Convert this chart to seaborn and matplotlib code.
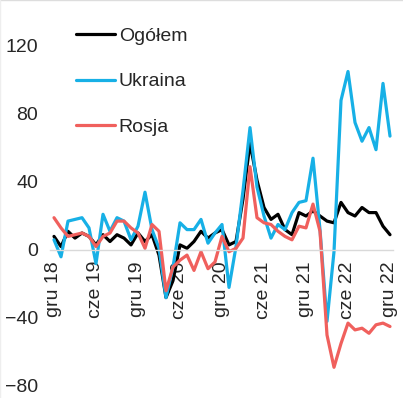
import numpy as np
import pandas as pd
import seaborn as sns
import matplotlib.pyplot as plt
from matplotlib.lines import Line2D

# monthly values, gru 2018 - gru 2022
ogolem = [8, 2, 11, 7, 10, 8, 3, 9, 5, 9, 7, 3, 10, 5, 9, -3,
          -28, -18, 3, 1, 5, 11, 7, 10, 12, 3, 5, 30, 63, 41, 25, 18,
          21, 12, 9, 22, 20, 23, 20, 17, 16, 28, 22, 20, 25, 22, 22, 14, 9]
ukraina = [6, -4, 17, 18, 19, 13, -8, 21, 11, 19, 17, 6, 14, 34, 12, 1,
           -28, -10, 16, 12, 12, 18, 4, 10, 15, -22, 2, 35, 72, 37, 20, 7,
           15, 12, 22, 28, 29, 54, 12, -42, -1, 88, 105, 75, 64, 72, 59, 98, 67]
rosja = [19, 13, 8, 9, 10, 8, 2, 8, 10, 17, 17, 13, 10, 1, 15, 11,
         -24, -10, -6, -3, -12, -1, -11, -7, 8, -1, 1, 7, 49, 19, 16, 15,
         11, 8, 6, 14, 13, 27, 11, -50, -69, -55, -43, -47, -46, -49, -44, -43, -45]

series_names = ["Ogółem", "Ukraina", "Rosja"]
series_colors = ["#000000", "#17B0E6", "#F0605D"]
tick_labels = ["gru 18", "cze 19", "gru 19", "cze 20", "gru 20",
               "cze 21", "gru 21", "cze 22", "gru 22"]
y_ticks = [-80, -40, 0, 40, 80, 120]

months = np.arange(len(ogolem))
df = pd.DataFrame({
    "miesiac": np.tile(months, 3),
    "wartosc": ogolem + ukraina + rosja,
    "seria": np.repeat(series_names, len(months)),
})

sns.set_style("white")
plt.rcParams["font.family"] = ["Liberation Sans", "DejaVu Sans"]

fig = plt.figure(figsize=(4.03, 3.98), dpi=100)
ax = fig.add_axes([50.5 / 403, 12 / 398, 343 / 403, 374 / 398])

sns.lineplot(data=df, x="miesiac", y="wartosc", hue="seria",
             hue_order=series_names, palette=series_colors,
             linewidth=2.3, ax=ax)

# axis line through zero (set before ticks, it resets them)
for side in ["top", "right", "left"]:
    ax.spines[side].set_visible(False)
ax.spines["bottom"].set_position(("data", 0))
ax.spines["bottom"].set_color("#D9D9D9")
ax.spines["bottom"].set_linewidth(1)

ax.set_xlim(-0.5, len(months) - 0.5)
ax.set_ylim(-80, 140)
ax.set_yticks(y_ticks)
ax.set_xticks(months[::6])
ax.set_xticklabels(tick_labels)
ax.set_xlabel("")
ax.set_ylabel("")

ax.tick_params(axis="x", length=0, pad=8, labelsize=14, labelrotation=90)
ax.tick_params(axis="y", length=0, pad=9, labelsize=14)

ax.legend(frameon=False, loc="upper left", bbox_to_anchor=(76 / 403, 1 - 27 / 398),
          bbox_transform=fig.transFigure, borderpad=0, borderaxespad=0,
          handlelength=2.0, handletextpad=0.2, labelspacing=1.45, fontsize=14)

# faint frame on top and left edge, as in the source image
fig.add_artist(Line2D([0, 1], [0.999, 0.999], color="#DDDDDD", lw=1, transform=fig.transFigure))
fig.add_artist(Line2D([0.001, 0.001], [0, 1], color="#EEEEEE", lw=1, transform=fig.transFigure))

fig.savefig("out.png", dpi=100)
